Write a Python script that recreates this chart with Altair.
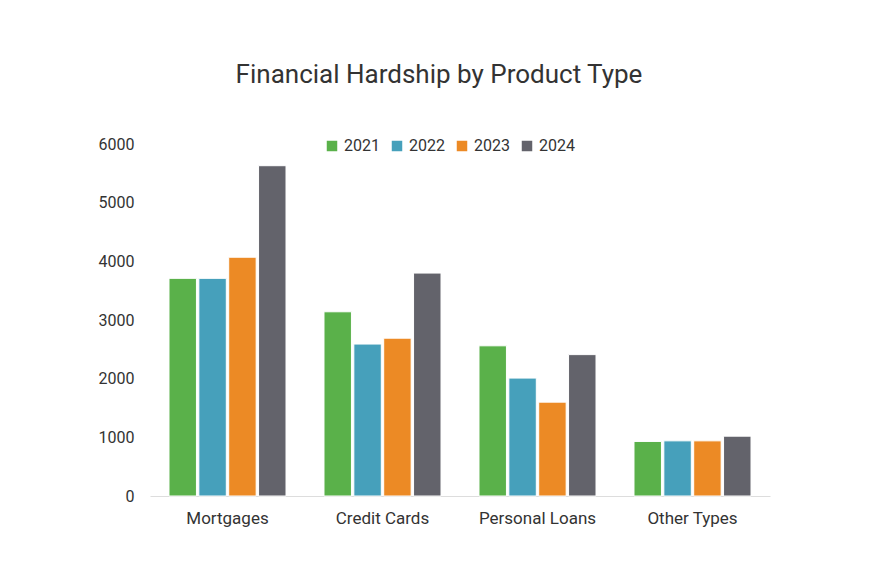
import altair as alt
import pandas as pd

categories = ["Mortgages", "Credit Cards", "Personal Loans", "Other Types"]
years = ["2021", "2022", "2023", "2024"]
values_2021 = [3710, 3140, 2560, 930]
values_2022 = [3710, 2590, 2010, 940]
values_2023 = [4070, 2690, 1600, 940]
values_2024 = [5630, 3800, 2410, 1020]
colors = ["#5ab14a", "#46a0bb", "#ec8a25", "#63636b"]

series = [values_2021, values_2022, values_2023, values_2024]
rows = []
for yr, vals in zip(years, series):
    for cat, v in zip(categories, vals):
        rows.append({"Product": cat, "Year": yr, "Value": v})
df = pd.DataFrame(rows)

FONT = "Roboto"
TEXT = "#333333"

chart = alt.Chart(df).mark_bar(stroke="white", strokeWidth=1).encode(
    x=alt.X("Product:N", sort=categories, title=None,
            scale=alt.Scale(paddingInner=0.245, paddingOuter=0.1225),
            axis=alt.Axis(labelAngle=0, ticks=False, domain=True, domainColor="#dddddd",
                          labelFontSize=17, labelColor=TEXT, labelFont=FONT,
                          labelPadding=14, grid=False)),
    xOffset=alt.XOffset("Year:N", sort=years, scale=alt.Scale(paddingInner=0.08)),
    y=alt.Y("Value:Q", title=None,
            scale=alt.Scale(domain=[0, 6000], nice=False),
            axis=alt.Axis(values=[0, 1000, 2000, 3000, 4000, 5000, 6000], ticks=False,
                          format="d",
                          domain=False, grid=False, labelFontSize=16, labelColor=TEXT,
                          labelFont=FONT, labelPadding=16)),
    color=alt.Color("Year:N", sort=years,
                    scale=alt.Scale(domain=years, range=colors),
                    legend=alt.Legend(title=None, orient="none", direction="horizontal",
                                      legendX=174, legendY=-6, symbolType="square",
                                      symbolSize=110, symbolStrokeWidth=0,
                                      labelFontSize=16, labelColor=TEXT, labelFont=FONT,
                                      columnPadding=9, labelOffset=4)),
).properties(
    width=620,
    height=352,
    title=alt.TitleParams("Financial Hardship by Product Type", fontSize=26,
                          font=FONT, fontWeight="normal", color=TEXT,
                          anchor="middle", dx=-21, offset=48),
    autosize=alt.AutoSizeParams(type="none"),
    padding={"left": 142, "top": 136, "right": 97, "bottom": 60},
).configure(background="white", view=alt.ViewConfig(strokeWidth=0, stroke="transparent"))

chart.save("out.html", embed_options={"renderer": "svg", "actions": False})
